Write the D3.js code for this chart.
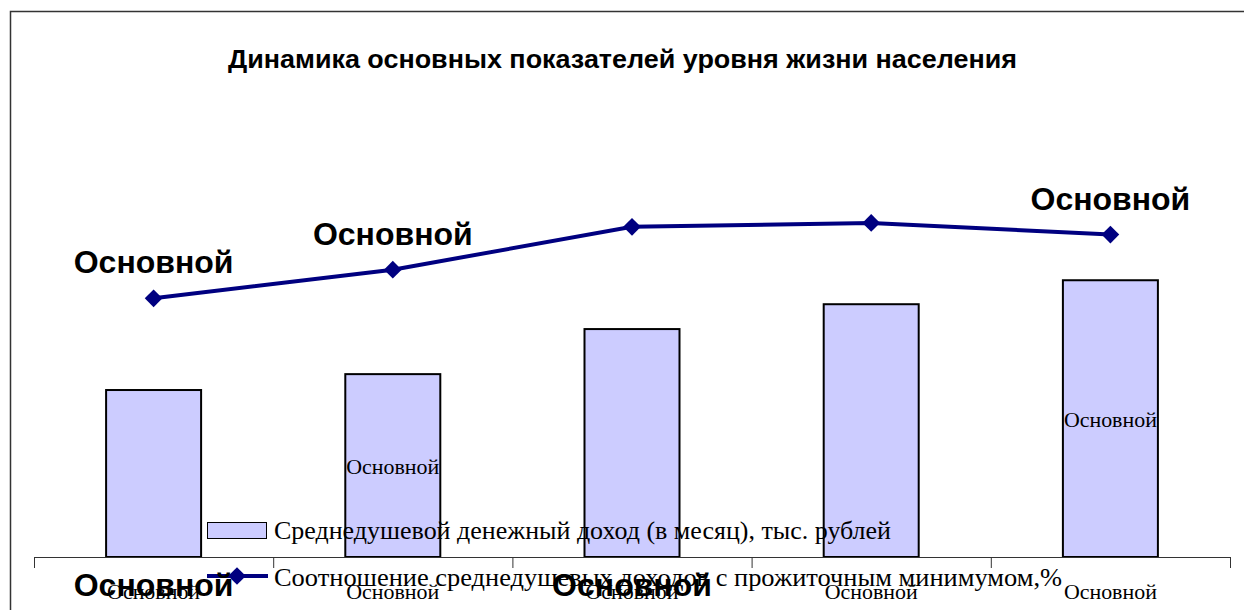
<!DOCTYPE html>
<html>
<head>
<meta charset="utf-8">
<script src="https://cdn.jsdelivr.net/npm/d3@7"></script>
<style>
  body { margin: 0; background: #fff; }
  svg { display: block; }
</style>
</head>
<body>
<svg id="chart" width="1244" height="610"></svg>
<script>
// data
const categories = ["Основной", "Основной", "Основной", "Основной", "Основной"];
const incomeValues = [5.78, 6.33, 7.89, 8.75, 9.58];   // тыс. рублей
const ratioValues = [199, 221, 254, 257, 248];          // %
const barLabels = [null, "Основной", null, null, "Основной"];
const pointLabelsTop = ["Основной", "Основной", null, null, "Основной"];
const pointLabelsBottom = ["Основной", null, "Основной", null, null];
const seriesNames = [
    "Среднедушевой денежный доход (в месяц), тыс. рублей",
    "Соотношение среднедушевых доходов с прожиточным минимумом,%"
];
const titleText = "Динамика основных показателей уровня жизни населения";

const svg = d3.select("#chart");
const W = 1244, H = 610;
const plot = {left: 34, right: 1230, top: 37, bottom: 557};
const SERIF = "'Liberation Serif', 'Times New Roman', serif";
const SANS = "'Liberation Sans', Arial, sans-serif";
const NAVY = "#000080";
const BAR_W = 95;

//frame
svg.append("path")
    .attr("d", `M10.5,${H} V11.5 H${W}`)
    .attr("fill", "none")
    .attr("stroke", "#333")
    .attr("stroke-width", 1.5);

//title
svg.append("text")
    .attr("x", 228).attr("y", 68)
    .attr("font-family", SANS)
    .attr("font-weight", "bold")
    .attr("font-size", 25)
    .attr("textLength", 789)
    .attr("lengthAdjust", "spacingAndGlyphs")
    .text(titleText);

//scales
let band = d3.scaleBand()
    .domain(d3.range(categories.length))
    .range([plot.left, plot.right]);
let yBar = d3.scaleLinear().domain([0, 18]).range([plot.bottom, plot.top]);
let yLine = d3.scaleLinear().domain([0, 400]).range([plot.bottom, plot.top]);
let cx = i => band(i) + band.bandwidth() / 2;

//bars
svg.append("g").selectAll("rect").data(incomeValues).join("rect")
    .attr("x", (d, i) => cx(i) - BAR_W / 2)
    .attr("y", d => yBar(d))
    .attr("width", BAR_W)
    .attr("height", d => yBar(0) - yBar(d))
    .attr("fill", "#ccccff")
    .attr("stroke", "black")
    .attr("stroke-width", 2);

//bar labels
svg.append("g").selectAll("text").data(barLabels).join("text")
    .attr("x", (d, i) => cx(i))
    .attr("y", (d, i) => (yBar(incomeValues[i]) + yBar(0)) / 2 + 8.5)
    .attr("text-anchor", "middle")
    .attr("font-family", SERIF)
    .attr("font-size", 22)
    .attr("textLength", d => d ? 93 : null)
    .attr("lengthAdjust", "spacingAndGlyphs")
    .text(d => d || "");

//axis
let axisG = svg.append("g")
    .attr("transform", `translate(0,${plot.bottom})`);
axisG.append("path")
    .attr("d", `M${plot.left},0.5H${plot.right}`)
    .attr("stroke", "#333");
axisG.selectAll("line").data(d3.range(categories.length + 1)).join("line")
    .attr("x1", i => plot.left + i * band.step() + 0.5)
    .attr("x2", i => plot.left + i * band.step() + 0.5)
    .attr("y1", 0).attr("y2", 11)
    .attr("stroke", "#333");

//legend
let legend = svg.append("g");
legend.append("rect")
    .attr("x", 207.5).attr("y", 522.5).attr("width", 59).attr("height", 16)
    .attr("fill", "#ccccff").attr("stroke", "black");
legend.append("text")
    .attr("x", 274).attr("y", 539)
    .attr("font-family", SERIF).attr("font-size", 26)
    .attr("textLength", 617)
    .attr("lengthAdjust", "spacingAndGlyphs")
    .text(seriesNames[0]);

//category labels
svg.append("g").selectAll("text").data(categories).join("text")
    .attr("x", (d, i) => cx(i))
    .attr("y", 599)
    .attr("text-anchor", "middle")
    .attr("font-family", SERIF)
    .attr("font-size", 22)
    .attr("textLength", 93)
    .attr("lengthAdjust", "spacingAndGlyphs")
    .text(d => d);

//line
let line = d3.line()
    .x((d, i) => cx(i))
    .y(d => yLine(d));
svg.append("path")
    .datum(ratioValues)
    .attr("d", line)
    .attr("fill", "none")
    .attr("stroke", NAVY)
    .attr("stroke-width", 4);
let diamond = d3.symbol().type(d3.symbolDiamond2).size(200);
svg.append("g").selectAll("path").data(ratioValues).join("path")
    .attr("transform", (d, i) => `translate(${cx(i)},${yLine(d)})`)
    .attr("d", diamond)
    .attr("fill", NAVY);

//line labels
svg.append("g").selectAll("text").data(pointLabelsTop).join("text")
    .attr("x", (d, i) => cx(i))
    .attr("y", (d, i) => yLine(ratioValues[i]) - 25)
    .attr("text-anchor", "middle")
    .attr("font-family", SANS)
    .attr("font-weight", "bold")
    .attr("font-size", 32)
    .text(d => d || "");

//second legend entry
legend.append("line")
    .attr("x1", 207).attr("x2", 268).attr("y1", 576).attr("y2", 576)
    .attr("stroke", NAVY).attr("stroke-width", 4);
legend.append("path")
    .attr("transform", "translate(237,576)")
    .attr("d", diamond)
    .attr("fill", NAVY);
legend.append("text")
    .attr("x", 274).attr("y", 586)
    .attr("font-family", SERIF).attr("font-size", 26)
    .attr("textLength", 788)
    .attr("lengthAdjust", "spacingAndGlyphs")
    .text(seriesNames[1]);

svg.append("g").selectAll("text").data(pointLabelsBottom).join("text")
    .attr("x", (d, i) => cx(i))
    .attr("y", 596)
    .attr("text-anchor", "middle")
    .attr("font-family", SANS)
    .attr("font-weight", "bold")
    .attr("font-size", 32)
    .text(d => d || "");
</script>
</body>
</html>
